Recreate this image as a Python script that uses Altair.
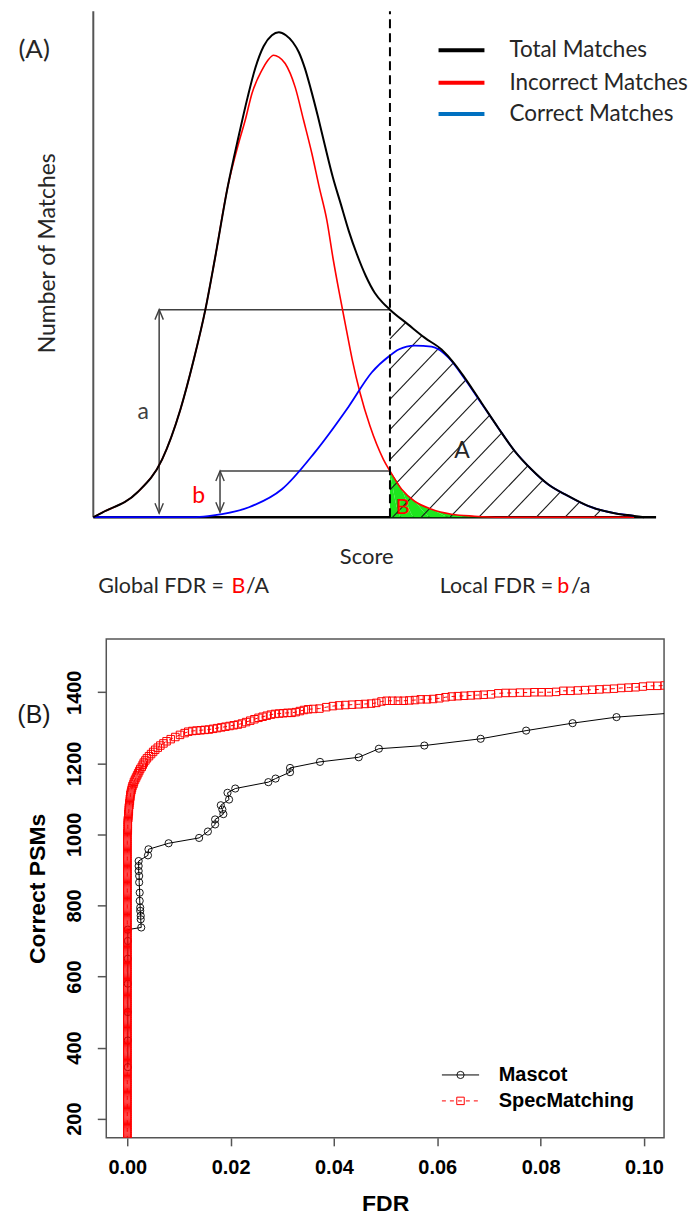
import altair as alt
import numpy as np
import pandas as pd

# ---------------- Panel A: score distributions (schematic units) ----------------
total_x = [0, 9, 44, 69, 87.3, 100.7, 112.3, 121.7, 134.7, 145.7, 154.7, 162.3, 170.7, 179, 186,
           193, 200, 206, 212, 218, 225, 232, 240, 248, 256, 264, 273, 282, 290, 297.3,
           315.7, 332.3, 349, 361, 372.3, 389, 405.7, 422.3, 439, 455.7, 475.7, 495.7,
           522.3, 542.3, 552]
total_y = [0, 4.7, 24.7, 58, 108, 158, 208, 258, 331, 382, 421, 450, 472, 483, 486,
           483, 476, 466, 450, 429, 402, 373, 341, 314, 287, 264, 242, 225, 215, 208,
           193, 179.7, 168, 155, 139.7, 114.7, 89.7, 66.3, 48, 33, 21.3, 11.3,
           4, 1.3, 0]

incorrect_x = [0, 9, 44, 69, 87.3, 100.7, 112.3, 121.7, 134.7, 145.7, 152.3, 159, 169, 175, 180.7,
               186, 192.3, 202.3, 210.7, 219, 226.3, 234, 240.5, 246.5, 253, 259.5, 267.3, 277.3,
               290.7, 297.3, 309, 322, 339, 359, 382, 409, 542]
incorrect_y = [0, 4.7, 24.7, 58, 108, 158, 208, 258, 331, 375, 398, 424.7, 448, 458, 463,
               461, 454.7, 431, 398, 364.7, 331.3, 298, 258, 225, 191.3, 158, 124.7, 91.3,
               58, 46.3, 28, 16, 8, 3, 1, 0, 0]

correct_x = [0, 100, 115, 129, 156, 189, 222, 256, 279, 297.3, 306, 322, 339, 356, 372, 387,
             405.7, 422.3, 439, 455.7, 475.7, 495.7, 522.3, 542.3]
correct_y = [0, 0, 1, 3, 10, 28, 65, 111, 145, 162, 168, 172, 171, 160, 139, 117,
             89.7, 66.3, 48, 33, 21.3, 11.3, 4, 1.3]

threshold = 297.3          # score cut-off (dashed line)
a_height = 208             # total matches at the cut-off
b_height = 46.3            # incorrect matches at the cut-off

legend_labels = ["Total Matches", "Incorrect Matches", "Correct Matches"]
legend_colors = ["#000000", "#ff0000", "#0070c0"]

# ---------------- Panel B: correct PSMs against FDR ----------------
mascot_fdr = [0.0001, 0.0001, 0.0001, 0.0001, 0.0001, 0.0001, 0.0001, 0.0027, 0.0026, 0.0026,
              0.0025, 0.0025, 0.0024, 0.0024, 0.0023, 0.0023, 0.0022, 0.0022, 0.0022, 0.0040,
              0.0041, 0.0080, 0.0139, 0.0156, 0.0170, 0.0170, 0.0186, 0.0184, 0.0181, 0.0197,
              0.0194, 0.0209, 0.0273, 0.0287, 0.0315, 0.0315, 0.0373, 0.0448, 0.0487, 0.0575,
              0.0684, 0.0772, 0.0862, 0.0947, 0.1060]
mascot_psm = [345, 420, 500, 580, 650, 700, 732, 738, 761, 771,
              785, 794, 813, 836, 865, 883, 897, 911, 925, 941,
              958, 975, 990, 1008, 1028, 1042, 1057, 1070, 1082, 1098,
              1117, 1129, 1147, 1157, 1175, 1187, 1204, 1217, 1241, 1250,
              1269, 1292, 1313, 1330, 1342]

# low-FDR stack of SpecMatching PSMs (all at FDR 0)
spec_stack_psm = [
    140, 146, 152, 158, 164, 170, 176, 182, 188, 194, 200, 206, 212, 218, 224, 230,
    236, 242, 248, 254, 260, 266, 272, 278, 284, 290, 296, 302, 308, 314, 320, 326,
    332, 338, 344, 350, 356, 362, 368, 374, 380, 386, 392, 398, 404, 410, 416, 422,
    428, 434, 440, 446, 452, 458, 464, 470, 476, 482, 488, 494, 500, 506, 512, 518,
    524, 530, 536, 542, 548, 554, 560, 566, 572, 578, 584, 590, 596, 602, 608, 614,
    620, 626, 632, 638, 644, 650, 656, 662, 668, 674, 680, 686, 692, 698, 704, 710,
    716, 722, 728, 734, 740, 746, 752, 758, 764, 770, 776, 782, 788, 794, 800, 806,
    812, 818, 824, 830, 836, 842, 848, 854, 860, 866, 872, 878, 884, 890, 896, 902,
    908, 914, 920, 926, 932, 938, 944, 950, 956, 962, 968, 974, 980, 986, 992, 998]
spec_curve_fdr = [
    0.0000, 0.0001, 0.0001, 0.0001, 0.0001, 0.0001, 0.0001, 0.0002, 0.0002, 0.0002,
    0.0003, 0.0003, 0.0003, 0.0004, 0.0004, 0.0005, 0.0005, 0.0006, 0.0006, 0.0007,
    0.0008, 0.0009, 0.0010, 0.0012, 0.0013, 0.0015, 0.0017, 0.0019, 0.0021, 0.0023,
    0.0025, 0.0028, 0.0030, 0.0032, 0.0035, 0.0038, 0.0042, 0.0046, 0.0050, 0.0054,
    0.0059, 0.0064, 0.0070, 0.0076, 0.0084, 0.0093, 0.0102, 0.0111, 0.0118, 0.0126,
    0.0134, 0.0142, 0.0150, 0.0158, 0.0166, 0.0174, 0.0182, 0.0190, 0.0198, 0.0206,
    0.0214, 0.0222, 0.0230, 0.0238, 0.0246, 0.0254, 0.0262, 0.0270, 0.0278, 0.0286,
    0.0294, 0.0302, 0.0310, 0.0318, 0.0326, 0.0334, 0.0342, 0.0350,
    0.0360, 0.0372, 0.0385, 0.0398, 0.0410, 0.0422, 0.0435,
    0.0448, 0.0460, 0.0472, 0.0482, 0.0492, 0.0502, 0.0513, 0.0524, 0.0535, 0.0546,
    0.0557, 0.0568, 0.0580, 0.0592, 0.0604, 0.0616, 0.0628, 0.0640, 0.0652, 0.0665,
    0.0678, 0.0690, 0.0704, 0.0718, 0.0732, 0.0746, 0.0760, 0.0774, 0.0788, 0.0802,
    0.0816, 0.0830, 0.0844, 0.0858, 0.0872, 0.0886, 0.0900, 0.0914, 0.0928, 0.0942,
    0.0956, 0.0970, 0.0984, 0.0998, 0.1012, 0.1026, 0.1040]
spec_curve_psm = [
    1004, 1010, 1016, 1022, 1028, 1034, 1040, 1046, 1052, 1058,
    1064, 1070, 1076, 1082, 1088, 1094, 1100, 1106, 1112, 1118,
    1124, 1130, 1136, 1142, 1148, 1154, 1160, 1166, 1172, 1178,
    1184, 1190, 1196, 1202, 1208, 1214, 1220, 1226, 1232, 1238,
    1244, 1250, 1256, 1262, 1268, 1274, 1280, 1285, 1289, 1291,
    1292, 1293, 1294, 1295, 1297, 1299, 1301, 1303, 1305, 1307,
    1309, 1312, 1316, 1320, 1324, 1328, 1331, 1334, 1337, 1339,
    1340, 1341, 1342, 1342, 1344, 1347, 1350, 1352,
    1353, 1354, 1358, 1361, 1363, 1364, 1365,
    1366, 1367, 1368, 1370, 1374, 1376, 1376, 1376, 1376, 1377,
    1378, 1380, 1380, 1381, 1383, 1386, 1388, 1389, 1390, 1391,
    1392, 1393, 1394, 1397, 1398, 1398, 1399, 1399, 1400, 1400,
    1400, 1401, 1404, 1404, 1405, 1406, 1407, 1408, 1409, 1410,
    1412, 1413, 1414, 1416, 1418, 1418, 1419]

fdr_ticks = [0.0, 0.02, 0.04, 0.06, 0.08, 0.10]
psm_ticks = [200, 400, 600, 800, 1000, 1200, 1400]
series_names = ["Mascot", "SpecMatching"]

# ======================= Panel A =======================
FONT_A = "Lato"
INK = "#262626"
xa = alt.Scale(domain=[13, 572], nice=False, zero=False)
ya = alt.Scale(domain=[0, 507], nice=False, zero=False)
XA = alt.X("x:Q", scale=xa, axis=None)
YA = alt.Y("y:Q", scale=ya, axis=None)


def curve_df(xs, ys):
    return pd.DataFrame({"x": xs, "y": ys, "i": range(len(xs))})


def seg_df(rows):
    return pd.DataFrame(rows, columns=["x", "y", "x2", "y2"])


def rules(df, **style):
    return alt.Chart(df).mark_rule(**style).encode(x=XA, y=YA, x2="x2:Q", y2="y2:Q")


def line(df, **style):
    return alt.Chart(df).mark_line(interpolate="monotone", **style).encode(x=XA, y=YA, order="i:Q")


# frame: vertical axis line and baseline
frame_v = rules(seg_df([[0, 0, 0, 507]]), color="#555555", strokeWidth=2)
frame_h = rules(seg_df([[0, 0, 564, 0]]), color="#000000", strokeWidth=2.5)

# green area: incorrect matches above the threshold
inc = curve_df(incorrect_x, incorrect_y)
green = alt.Chart(inc[inc.x >= threshold]).mark_area(
    interpolate="monotone", color="#1ee61e", opacity=1
).encode(x=XA, y=YA, order="i:Q")

# diagonal hatching of the area above the threshold, bounded by the total curve
tx = np.array(total_x, dtype=float)
ty = np.array(total_y, dtype=float)
grid = np.linspace(threshold, tx.max(), 4000)
tg = np.interp(grid, tx, ty)
slope, step, base = 1.05, 28.8, 300.0
hatch_rows = []
for k in range(-8, 10):
    c = base + k * step
    x0 = max(threshold, c)
    y0 = slope * (x0 - c)
    if x0 >= tx.max() or y0 >= np.interp(x0, tx, ty):
        continue
    hit = np.where((grid >= x0) & (slope * (grid - c) >= tg))[0]
    if len(hit) == 0:
        continue
    hatch_rows.append([x0, y0, grid[hit[0]], tg[hit[0]]])
hatch = rules(seg_df(hatch_rows), color="#1a1a1a", strokeWidth=1.1)

# measurement guides a and b
GUIDE = "#404040"
a_x, b_x = 66, 127
guides = rules(seg_df([
    [a_x, a_height, threshold, a_height],
    [b_x, b_height, threshold, b_height],
    [a_x, 4, a_x, a_height],
    [b_x, 5, b_x, b_height],
]), color=GUIDE, strokeWidth=1.5)
UP = "M-0.42,1L0,0L0.42,1"
DOWN = "M-0.42,-1L0,0L0.42,-1"
heads_up = alt.Chart(pd.DataFrame({"x": [a_x, b_x], "y": [a_height, b_height]})).mark_point(
    shape=UP, size=400, filled=False, stroke=GUIDE, strokeWidth=1.4, opacity=1
).encode(x=XA, y=YA)
heads_down = alt.Chart(pd.DataFrame({"x": [a_x, b_x], "y": [4, 5]})).mark_point(
    shape=DOWN, size=400, filled=False, stroke=GUIDE, strokeWidth=1.4, opacity=1
).encode(x=XA, y=YA)

red_line = line(inc, color="#ff0000", strokeWidth=1.6)
blue_line = line(curve_df(correct_x, correct_y), color="#0000ff", strokeWidth=1.8)
black_line = line(curve_df(total_x, total_y), color="#000000", strokeWidth=2)

cut_line = rules(seg_df([[threshold, 0, threshold, 507]]), color="#000000",
                 strokeWidth=2, strokeDash=[9, 5])

# legend
leg_y = [468, 435.5, 404]
leg_lines = alt.Chart(pd.DataFrame({
    "x": [346] * 3, "x2": [392] * 3, "y": leg_y, "y2": leg_y, "c": legend_colors
})).mark_rule(strokeWidth=4).encode(
    x=XA, y=YA, x2="x2:Q", y2="y2:Q", color=alt.Color("c:N", scale=None))


def text_layer(rows, align, angle=0):
    df = pd.DataFrame(rows, columns=["x", "y", "label", "color", "size"])
    return alt.Chart(df).mark_text(align=align, baseline="middle", font=FONT_A, angle=angle).encode(
        x=XA, y=YA, text="label:N",
        color=alt.Color("color:N", scale=None), size=alt.Size("size:Q", scale=None))


RED = "#ff0000"
txt_center = text_layer([
    [-59.3, 468, "(A)", INK, 26],
    [50, 105, "a", GUIDE, 23],
    [105.7, 21, "b", RED, 23],
    [369.6, 66, "A", INK, 23],
    [310, 10, "B", RED, 22],
    [274, -39.7, "Score", INK, 22],
    [145.5, -70, "B", RED, 21.5],
    [471, -70, "b", RED, 21.5],
], "center")
txt_left = text_layer(
    [[417, yy, lab, INK, 22.5] for yy, lab in zip(leg_y, legend_labels)] + [
        [153, -70, "/A", INK, 21.5],
        [478.7, -70, "/a", INK, 21.5],
    ], "left")
txt_right = text_layer([
    [131, -70, "Global FDR =", INK, 21.5],
    [461, -70, "Local FDR =", INK, 21.5],
], "right")
txt_axis = text_layer([[-45, 264.5, "Number of Matches", INK, 23]], "center", angle=270)

panel_a = alt.layer(
    frame_v, frame_h, green, hatch, guides, heads_up, heads_down,
    red_line, blue_line, black_line, cut_line, leg_lines,
    txt_center, txt_left, txt_right, txt_axis
).properties(width=559, height=507, view=alt.ViewBackground(stroke="transparent"))

# ======================= Panel B =======================
FONT_B = "Liberation Sans"
xb = alt.Scale(domain=[-0.00407, 0.1039], nice=False, zero=False)
yb = alt.Scale(domain=[146, 1550], nice=False, zero=False)
x_axis = alt.Axis(
    values=fdr_ticks, format=".2f", title="FDR", grid=False, domain=False,
    tickSize=8, tickColor="#555555", tickWidth=1.5, labelFlush=False,
    labelFont=FONT_B, labelFontWeight="bold", labelFontSize=20, labelColor="#000000",
    labelPadding=12, titleFont=FONT_B, titleFontWeight="bold", titleFontSize=23,
    titleColor="#000000", titlePadding=15)
y_axis = alt.Axis(
    values=psm_ticks, format="d", title="Correct PSMs", grid=False, domain=False,
    tickSize=9, tickColor="#555555", tickWidth=1.5, labelFlush=False,
    labelAngle=270, labelAlign="center", labelBaseline="alphabetic",
    labelFont=FONT_B, labelFontWeight="bold", labelFontSize=20, labelColor="#000000",
    labelPadding=17, titleFont=FONT_B, titleFontWeight="bold", titleFontSize=23,
    titleColor="#000000", titlePadding=15)
XB = alt.X("fdr:Q", scale=xb, axis=x_axis)
YB = alt.Y("psm:Q", scale=yb, axis=y_axis)

mascot = pd.DataFrame({"fdr": mascot_fdr, "psm": mascot_psm, "i": range(len(mascot_fdr))})
spec_fdr = [0.0] * len(spec_stack_psm) + spec_curve_fdr
spec_psm = spec_stack_psm + spec_curve_psm
spec = pd.DataFrame({"fdr": spec_fdr, "psm": spec_psm, "i": range(len(spec_fdr))})

m_line = alt.Chart(mascot).mark_line(color="#000000", strokeWidth=1, clip=True).encode(
    x=XB, y=YB, order="i:Q")
m_pts = alt.Chart(mascot).mark_point(shape="circle", size=52, filled=False, color="#000000",
                                     strokeWidth=0.9, opacity=1, clip=True).encode(x=XB, y=YB)
s_line = alt.Chart(spec).mark_line(color="#ff0000", strokeWidth=1, strokeDash=[4, 4],
                                   clip=True).encode(x=XB, y=YB, order="i:Q")
s_pts = alt.Chart(spec).mark_point(shape="square", size=56, filled=False, color="#ff0000",
                                   strokeWidth=1, opacity=1, clip=True).encode(x=XB, y=YB)

# legend drawn in data space (lower right)
leg_b_y = [323, 250]
lb_m = alt.Chart(pd.DataFrame({"fdr": [0.0609], "fdr2": [0.0681], "psm": [leg_b_y[0]]})).mark_rule(
    color="#000000", strokeWidth=1).encode(x=XB, x2="fdr2:Q", y=YB)
lb_s = alt.Chart(pd.DataFrame({"fdr": [0.0609], "fdr2": [0.0681], "psm": [leg_b_y[1]]})).mark_rule(
    color="#ff0000", strokeWidth=1, strokeDash=[4, 4]).encode(x=XB, x2="fdr2:Q", y=YB)
lb_mp = alt.Chart(pd.DataFrame({"fdr": [0.0645], "psm": [leg_b_y[0]]})).mark_point(
    shape="circle", size=52, filled=False, color="#000000", strokeWidth=0.9, opacity=1
).encode(x=XB, y=YB)
lb_sp = alt.Chart(pd.DataFrame({"fdr": [0.0645], "psm": [leg_b_y[1]]})).mark_point(
    shape="square", size=56, filled=False, color="#ff0000", strokeWidth=1, opacity=1
).encode(x=XB, y=YB)
lb_txt = alt.Chart(pd.DataFrame({"fdr": [0.0719, 0.0719], "psm": leg_b_y, "label": series_names})).mark_text(
    align="left", baseline="middle", font=FONT_B, fontWeight="bold", fontSize=20, color="#000000"
).encode(x=XB, y=YB, text="label:N")
tag_b = alt.Chart(pd.DataFrame({"fdr": [-0.01806], "psm": [1337], "label": ["(B)"]})).mark_text(
    align="center", baseline="middle", font=FONT_B, fontSize=25, color="#1a1a1a"
).encode(x=XB, y=YB, text="label:N")

panel_b = alt.layer(
    m_line, m_pts, s_line, s_pts, lb_m, lb_s, lb_mp, lb_sp, lb_txt, tag_b
).properties(width=559, height=500,
             view=alt.ViewBackground(stroke="#555555", strokeWidth=1.5))

chart = alt.vconcat(panel_a, panel_b, spacing=40).properties(
    padding={"left": 16.5, "top": 8, "right": 0, "bottom": 0},
    background="white",
)

chart.save("out.html", embed_options={"renderer": "svg", "actions": False})
